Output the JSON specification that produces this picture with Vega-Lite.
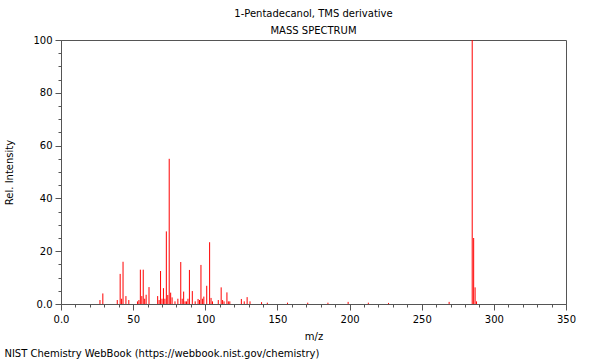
{
  "$schema": "https://vega.github.io/schema/vega-lite/v6.json",
  "background": "white",
  "padding": {"left": 4, "top": 8, "right": 0, "bottom": 0},
  "config": {
    "font": "DejaVu Sans",
    "view": {"stroke": "#555", "strokeWidth": 1},
    "axis": {"labelFont": "DejaVu Sans", "titleFont": "DejaVu Sans", "labelFontSize": 10, "titleFontSize": 10, "titleFontWeight": "normal", "labelColor": "#000", "titleColor": "#000", "domainColor": "#555", "tickColor": "#555", "grid": false}
  },
  "title": {"text": "NIST Chemistry WebBook (https://webbook.nist.gov/chemistry)", "orient": "bottom", "anchor": "start", "frame": "bounds", "fontSize": 10, "fontWeight": "normal", "font": "DejaVu Sans", "color": "#000", "offset": 7},
  "vconcat": [
    {
      "title": {"text": ["1-Pentadecanol, TMS derivative", "MASS SPECTRUM"], "fontSize": 10, "fontWeight": "normal", "font": "DejaVu Sans", "color": "#000", "lineHeight": 17, "anchor": "middle", "frame": "group", "offset": -1},
      "width": 505,
      "height": 264,
      "data": {"values": [
        {"mz": 27, "intensity": 1.5}, {"mz": 29, "intensity": 4}, {"mz": 39, "intensity": 1.5}, {"mz": 41, "intensity": 11.4},
        {"mz": 42, "intensity": 2}, {"mz": 43, "intensity": 16}, {"mz": 45, "intensity": 3}, {"mz": 47, "intensity": 1.5},
        {"mz": 53, "intensity": 1}, {"mz": 54, "intensity": 1.5}, {"mz": 55, "intensity": 13}, {"mz": 56, "intensity": 3},
        {"mz": 57, "intensity": 13}, {"mz": 58, "intensity": 2}, {"mz": 59, "intensity": 3.5}, {"mz": 61, "intensity": 6.4},
        {"mz": 67, "intensity": 3}, {"mz": 68, "intensity": 1.5}, {"mz": 69, "intensity": 12.5}, {"mz": 70, "intensity": 2},
        {"mz": 71, "intensity": 6}, {"mz": 72, "intensity": 2}, {"mz": 73, "intensity": 27.5}, {"mz": 74, "intensity": 3.4},
        {"mz": 75, "intensity": 55}, {"mz": 76, "intensity": 4.3}, {"mz": 77, "intensity": 2.5}, {"mz": 79, "intensity": 1},
        {"mz": 81, "intensity": 2}, {"mz": 83, "intensity": 15.9}, {"mz": 84, "intensity": 2}, {"mz": 85, "intensity": 4.7},
        {"mz": 86, "intensity": 1}, {"mz": 87, "intensity": 1}, {"mz": 88, "intensity": 2}, {"mz": 89, "intensity": 12.9},
        {"mz": 91, "intensity": 4.9}, {"mz": 93, "intensity": 1}, {"mz": 95, "intensity": 1.9}, {"mz": 96, "intensity": 1.5},
        {"mz": 97, "intensity": 14.8}, {"mz": 98, "intensity": 2}, {"mz": 99, "intensity": 2.8}, {"mz": 101, "intensity": 6.9},
        {"mz": 103, "intensity": 23.4}, {"mz": 104, "intensity": 2.3}, {"mz": 105, "intensity": 1}, {"mz": 109, "intensity": 1.5},
        {"mz": 111, "intensity": 6.3}, {"mz": 112, "intensity": 1.5}, {"mz": 113, "intensity": 1}, {"mz": 115, "intensity": 4.4},
        {"mz": 116, "intensity": 1}, {"mz": 117, "intensity": 1}, {"mz": 125, "intensity": 1.9}, {"mz": 127, "intensity": 1},
        {"mz": 129, "intensity": 2.6}, {"mz": 131, "intensity": 1}, {"mz": 139, "intensity": 0.7}, {"mz": 143, "intensity": 0.5},
        {"mz": 157, "intensity": 0.5}, {"mz": 171, "intensity": 0.5}, {"mz": 185, "intensity": 0.5}, {"mz": 199, "intensity": 0.8},
        {"mz": 213, "intensity": 0.5}, {"mz": 227, "intensity": 0.4}, {"mz": 269, "intensity": 0.8}, {"mz": 285, "intensity": 100},
        {"mz": 286, "intensity": 25}, {"mz": 287, "intensity": 6.3}, {"mz": 288, "intensity": 1}
      ]},
      "mark": {"type": "rule", "color": "#ff0000", "strokeWidth": 1},
      "encoding": {
        "x": {"field": "mz", "type": "quantitative", "scale": {"domain": [0, 350], "nice": false, "zero": false},
          "axis": {"title": "m/z", "titlePadding": 7, "labelPadding": 4, "labelFlush": false,
            "values": [0,10,20,30,40,50,60,70,80,90,100,110,120,130,140,150,160,170,180,190,200,210,220,230,240,250,260,270,280,290,300,310,320,330,340,350],
            "labelExpr": "datum.value % 50 === 0 ? (datum.value === 0 ? '0.0' : datum.label) : ''",
            "tickSize": {"condition": {"test": "datum.value % 50 === 0", "value": 6}, "value": 3}}},
        "y": {"field": "intensity", "type": "quantitative", "scale": {"domain": [0, 100], "nice": false},
          "axis": {"title": "Rel. Intensity", "titlePadding": 18, "labelPadding": 3,
            "values": [0,5,10,15,20,25,30,35,40,45,50,55,60,65,70,75,80,85,90,95,100],
            "labelExpr": "datum.value % 20 === 0 ? (datum.value === 0 ? '0.0' : datum.label) : ''",
            "tickSize": {"condition": {"test": "datum.value % 20 === 0", "value": 6}, "value": 3}}},
        "y2": {"datum": 0}
      }
    }
  ]
}
